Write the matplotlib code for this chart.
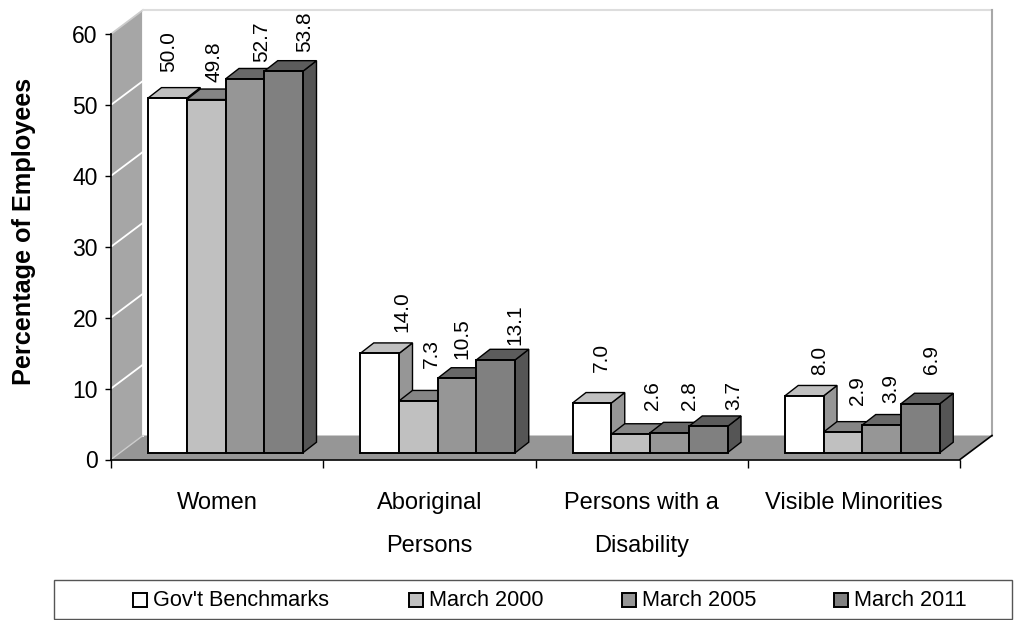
import matplotlib
matplotlib.use("Agg")
import matplotlib.pyplot as plt
from matplotlib.patches import Polygon, Rectangle

plt.rcParams['font.family'] = ['Liberation Sans', 'DejaVu Sans']

categories = ["Women", "Aboriginal\nPersons", "Persons with a\nDisability", "Visible Minorities"]
series_names = ["Gov't Benchmarks", "March 2000", "March 2005", "March 2011"]
gov_benchmarks = [50.0, 14.0, 7.0, 8.0]
march_2000 = [49.8, 7.3, 2.6, 2.9]
march_2005 = [52.7, 10.5, 2.8, 3.9]
march_2011 = [53.8, 13.1, 3.7, 6.9]
y_ticks = [0, 10, 20, 30, 40, 50, 60]

# label nudges in pixels (x from bar centre, y above bar top), one row per series
label_dx = [[1, 22, 10, 15], [8, 13, 22, 15], [17, 5, 20, 9], [21, 19, 26, 11]]
label_gap = [[26, 21, 31, 21], [18, 33, 24, 27], [17, 19, 23, 22], [19, 15, 16, 30]]

front_colors = ['#ffffff', '#c0c0c0', '#969696', '#808080']
top_colors = ['#c0c0c0', '#858585', '#686868', '#5c5c5c']
side_colors = ['#969696', '#808080', '#6e6e6e', '#555555']

W, H = 1034, 620
X0, X1, Y0, Y60 = 111, 960, 459.5, 34
DX, DY = 32, 24  # wall depth in pixels


def draw_chrome(bg):
    """Walls, floor and legend, drawn in pixel coordinates."""
    bg.set_xlim(0, W)
    bg.set_ylim(H, 0)
    bg.axis('off')

    bg.add_patch(Polygon([(X0, Y60), (X0 + DX, Y60 - DY), (X0 + DX, Y0 - DY), (X0, Y0)],
                         facecolor='#a6a6a6', edgecolor='none'))
    bg.add_patch(Polygon([(X0, Y0), (X0 + DX, Y0 - DY), (X1 + DX, Y0 - DY), (X1, Y0)],
                         facecolor='#969696', edgecolor='none'))
    for t in y_ticks[1:-1]:
        y = Y0 - (Y0 - Y60) * t / 60
        bg.plot([X0, X0 + DX], [y, y - DY], color='white', lw=1.3)
    bg.plot([X0 + DX, X0 + DX], [Y60 - DY, Y0 - DY], color='white', lw=1.3)
    bg.plot([X0, X0 + DX], [Y60, Y60 - DY], color='#cccccc', lw=1.3)
    bg.plot([X0, X0 + DX], [Y0, Y0 - DY], color='#cccccc', lw=1.0)
    bg.plot([X0 + DX, X1 + DX], [Y60 - DY, Y60 - DY], color='#dddddd', lw=1.5)
    bg.plot([X1 + DX, X1 + DX], [Y60 - DY, Y0 - DY], color='#a8a8a8', lw=1.5)
    bg.plot([X1, X1 + DX], [Y0, Y0 - DY], color='black', lw=1.2)

    bg.add_patch(Rectangle((54, 580), 958, 39, facecolor='white', edgecolor='#555555', lw=1.0))
    for name, color, sx in zip(series_names, front_colors, [133, 409, 622, 834]):
        bg.add_patch(Rectangle((sx, 592.5), 14, 14, facecolor=color, edgecolor='black', lw=1.4))
        bg.text(sx + 20, 600.5, name, fontsize=15.6, va='center', ha='left')


def draw_bars(ax):
    """Pseudo 3D bars on the data axes."""
    unit_x = (X1 - X0) / len(categories)
    unit_y = (Y0 - Y60) / 60
    base = 6.8 / unit_y
    width = 38.75 / unit_x
    start = 37 / unit_x
    dx = 13.5 / unit_x
    dy = 10.5 / unit_y

    series = [gov_benchmarks, march_2000, march_2005, march_2011]
    for c in range(len(categories)):
        for s, values in enumerate(series):
            v = values[c]
            x = c + start + s * width
            top = base + v
            ax.bar(x, v, width=width, bottom=base, align='edge', color=front_colors[s],
                   edgecolor='black', linewidth=1.4, clip_on=False, zorder=3 + c + s * 0.1)
            ax.add_patch(Polygon([(x + width, base), (x + width + dx, base + dy),
                                  (x + width + dx, top + dy), (x + width, top)],
                                 facecolor=side_colors[s], edgecolor='black', lw=1.0,
                                 clip_on=False, zorder=3 + c + s * 0.1 - 0.01))
            ax.add_patch(Polygon([(x, top), (x + dx, top + dy),
                                  (x + width + dx, top + dy), (x + width, top)],
                                 facecolor=top_colors[s], edgecolor='black', lw=1.0,
                                 clip_on=False, zorder=3 + c + s * 0.1 - 0.01))
            ax.annotate(f"{v:.1f}", (x + width / 2, top),
                        xytext=(label_dx[s][c] * 0.72, label_gap[s][c] * 0.72),
                        textcoords='offset points', rotation=90, ha='center', va='bottom',
                        fontsize=15, zorder=20, annotation_clip=False)


def main():
    fig = plt.figure(figsize=(W / 100, H / 100), dpi=100)
    bg = fig.add_axes([0, 0, 1, 1], zorder=0)
    draw_chrome(bg)

    ax = fig.add_axes([X0 / W, 1 - Y0 / H, (X1 - X0) / W, (Y0 - Y60) / H], zorder=1)
    ax.patch.set_alpha(0)
    ax.set_xlim(0, len(categories))
    ax.set_ylim(0, 60)
    ax.set_yticks(y_ticks)
    ax.set_xticks(range(len(categories) + 1))
    ax.set_xticklabels([])
    ax.tick_params(axis='y', length=4.5, width=1.0, labelsize=16.5, pad=5)
    ax.tick_params(axis='x', length=6, width=1.0)
    for side in ['top', 'right']:
        ax.spines[side].set_visible(False)
    ax.spines['left'].set_linewidth(1.2)
    ax.spines['bottom'].set_linewidth(1.2)

    draw_bars(ax)

    for c, name in enumerate(categories):
        ax.annotate(name, (c + 0.5, 0), xytext=(0, -23.5), textcoords='offset points',
                    ha='center', va='top', fontsize=17, linespacing=2.2,
                    annotation_clip=False)

    ax.set_ylabel("Percentage of Employees", fontsize=18.2, fontweight='bold')
    ax.yaxis.set_label_coords(-0.0885, 0.536)

    fig.savefig("out.png", dpi=100)


if __name__ == "__main__":
    main()
